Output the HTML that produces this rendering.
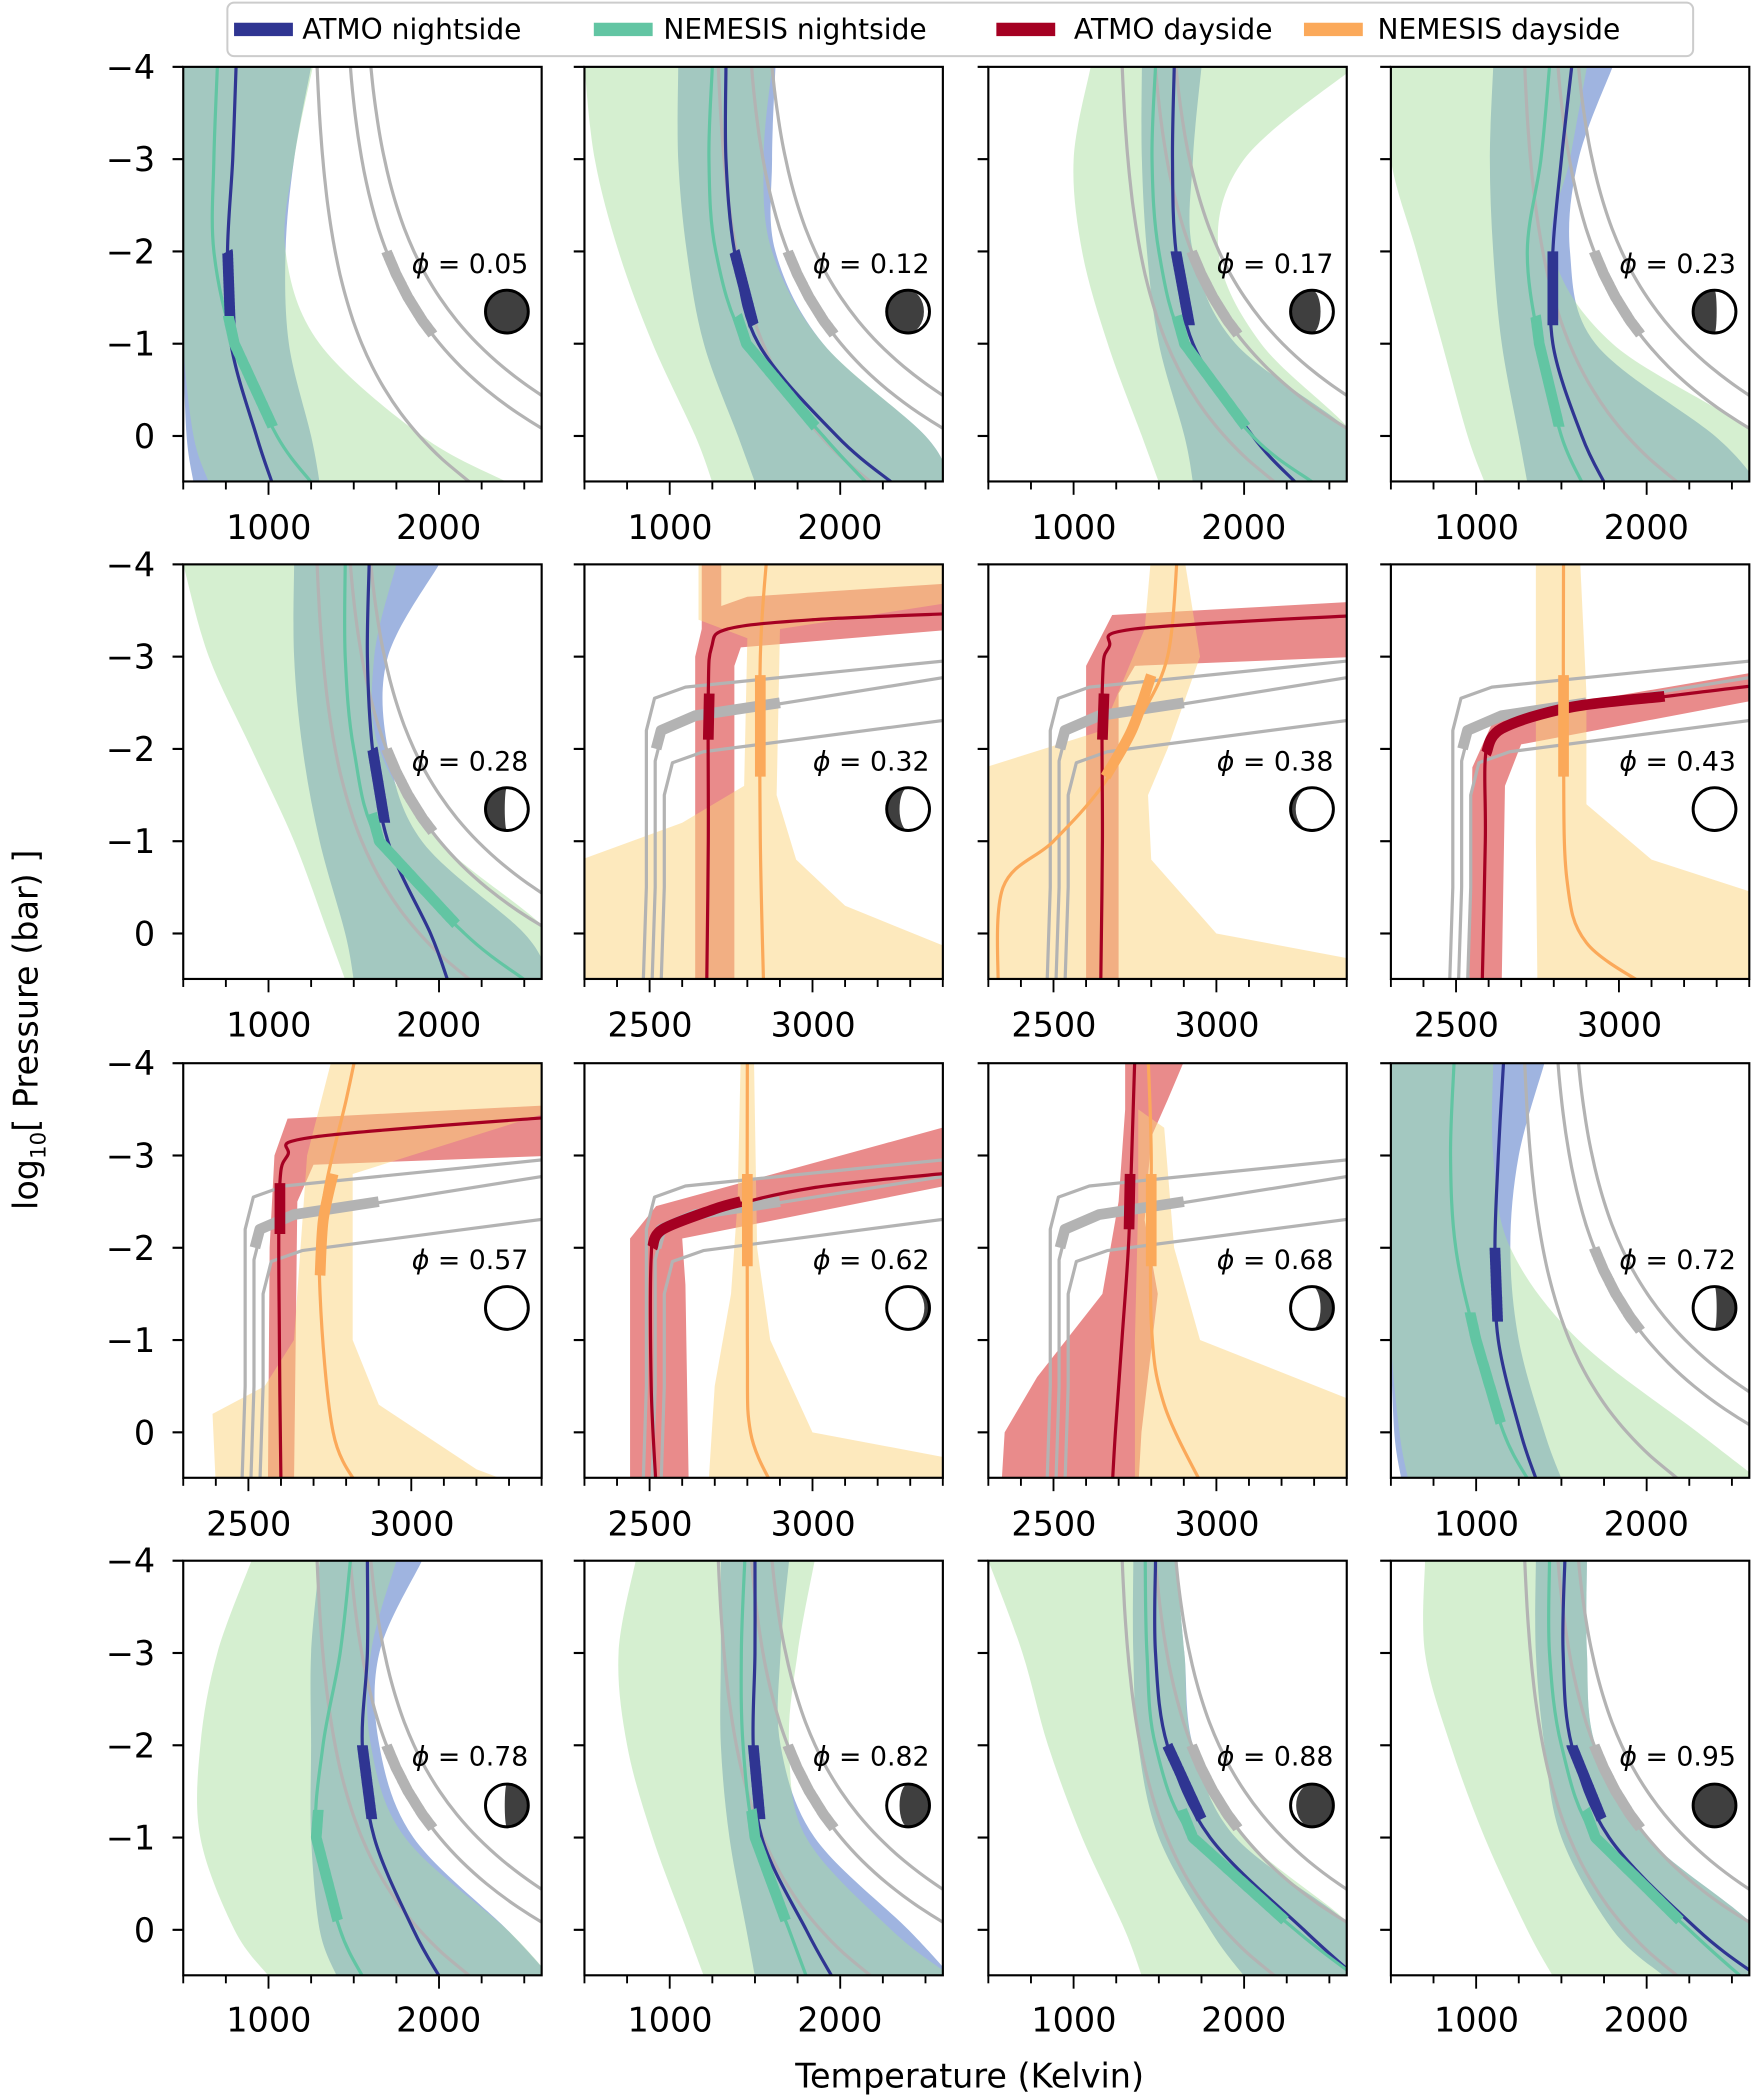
<!DOCTYPE html>
<html><head><meta charset="utf-8"><style>
html,body{margin:0;padding:0;background:#fff;width:1752px;height:2097px;overflow:hidden}
svg{display:block}
text{font-family:"DejaVu Sans","Liberation Sans",sans-serif;fill:#000}
</style></head><body>
<svg id="s" width="1752" height="2097" viewBox="0 0 1310 1568" xmlns="http://www.w3.org/2000/svg">
<defs id="defs"></defs>
<g id="plots"></g>
<g id="txt" font-size="25">
<!-- legend -->
<rect x="170" y="2" width="1096" height="40" rx="5" fill="#fff" stroke="#cccccc" stroke-width="1.5"/>
<rect x="175" y="17" width="44" height="10" fill="#2f3592"/>
<text x="226" y="29" font-size="21">ATMO nightside</text>
<rect x="444" y="17" width="44" height="10" fill="#62c5a3"/>
<text x="496" y="29" font-size="21">NEMESIS nightside</text>
<rect x="745" y="17" width="44" height="10" fill="#a50022"/>
<text x="803" y="29" font-size="21">ATMO dayside</text>
<rect x="975" y="17" width="44" height="10" fill="#fba95a"/>
<text x="1030" y="29" font-size="21">NEMESIS dayside</text>
<!-- y tick labels -->
<g text-anchor="end">
<text x="116" y="59">−4</text><text x="116" y="128">−3</text><text x="116" y="197">−2</text><text x="116" y="266">−1</text><text x="116" y="335">0</text>
<text x="116" y="431">−4</text><text x="116" y="500">−3</text><text x="116" y="569">−2</text><text x="116" y="638">−1</text><text x="116" y="707">0</text>
<text x="116" y="804">−4</text><text x="116" y="873">−3</text><text x="116" y="942">−2</text><text x="116" y="1011">−1</text><text x="116" y="1080">0</text>
<text x="116" y="1176">−4</text><text x="116" y="1245">−3</text><text x="116" y="1314">−2</text><text x="116" y="1383">−1</text><text x="116" y="1452">0</text>
</g>
<!-- x tick labels -->
<g text-anchor="middle">
<text x="201" y="403">1000</text><text x="328" y="403">2000</text>
<text x="501" y="403">1000</text><text x="628" y="403">2000</text>
<text x="803" y="403">1000</text><text x="930" y="403">2000</text>
<text x="1104" y="403">1000</text><text x="1231" y="403">2000</text>
<text x="201" y="775">1000</text><text x="328" y="775">2000</text>
<text x="486" y="775">2500</text><text x="608" y="775">3000</text>
<text x="788" y="775">2500</text><text x="910" y="775">3000</text>
<text x="1089" y="775">2500</text><text x="1211" y="775">3000</text>
<text x="186" y="1148">2500</text><text x="308" y="1148">3000</text>
<text x="486" y="1148">2500</text><text x="608" y="1148">3000</text>
<text x="788" y="1148">2500</text><text x="910" y="1148">3000</text>
<text x="1104" y="1148">1000</text><text x="1231" y="1148">2000</text>
<text x="201" y="1519">1000</text><text x="328" y="1519">2000</text>
<text x="501" y="1519">1000</text><text x="628" y="1519">2000</text>
<text x="803" y="1519">1000</text><text x="930" y="1519">2000</text>
<text x="1104" y="1519">1000</text><text x="1231" y="1519">2000</text>
</g>
<!-- phase labels -->
<g text-anchor="end" font-size="20">
<text x="395" y="204"><tspan font-style="italic">ϕ</tspan> = 0.05</text>
<text x="695" y="204"><tspan font-style="italic">ϕ</tspan> = 0.12</text>
<text x="997" y="204"><tspan font-style="italic">ϕ</tspan> = 0.17</text>
<text x="1298" y="204"><tspan font-style="italic">ϕ</tspan> = 0.23</text>
<text x="395" y="576"><tspan font-style="italic">ϕ</tspan> = 0.28</text>
<text x="695" y="576"><tspan font-style="italic">ϕ</tspan> = 0.32</text>
<text x="997" y="576"><tspan font-style="italic">ϕ</tspan> = 0.38</text>
<text x="1298" y="576"><tspan font-style="italic">ϕ</tspan> = 0.43</text>
<text x="395" y="949"><tspan font-style="italic">ϕ</tspan> = 0.57</text>
<text x="695" y="949"><tspan font-style="italic">ϕ</tspan> = 0.62</text>
<text x="997" y="949"><tspan font-style="italic">ϕ</tspan> = 0.68</text>
<text x="1298" y="949"><tspan font-style="italic">ϕ</tspan> = 0.72</text>
<text x="395" y="1320"><tspan font-style="italic">ϕ</tspan> = 0.78</text>
<text x="695" y="1320"><tspan font-style="italic">ϕ</tspan> = 0.82</text>
<text x="997" y="1320"><tspan font-style="italic">ϕ</tspan> = 0.88</text>
<text x="1298" y="1320"><tspan font-style="italic">ϕ</tspan> = 0.95</text>
</g>
<text x="725" y="1561" text-anchor="middle" font-size="25">Temperature (Kelvin)</text>
<text transform="translate(28,770) rotate(-90)" text-anchor="middle" font-size="25">log<tspan font-size="16" dy="6">10</tspan><tspan dy="-6">[ Pressure (bar) ]</tspan></text>
</g>
</svg>
<script>
const NS="http://www.w3.org/2000/svg";
const plots=document.getElementById('plots'),defs=document.getElementById('defs');
const COLX=[137,437,739,1040],ROWY=[50,422,795,1167],W=268,H=310;
const P=[-4,-3,-2,-1,0,0.5];
function el(t,a,p){const e=document.createElementNS(NS,t);for(const k in a)e.setAttribute(k,a[k]);(p||plots).appendChild(e);return e;}
function smooth(pts){let d='M'+pts[0][0].toFixed(1)+','+pts[0][1].toFixed(1);
 for(let i=0;i<pts.length-1;i++){const p0=pts[i-1]||pts[i],p1=pts[i],p2=pts[i+1],p3=pts[i+2]||p2;
 const c1=[p1[0]+(p2[0]-p0[0])/6,p1[1]+(p2[1]-p0[1])/6],c2=[p2[0]-(p3[0]-p1[0])/6,p2[1]-(p3[1]-p1[1])/6];
 d+='C'+c1.map(v=>v.toFixed(1))+' '+c2.map(v=>v.toFixed(1))+' '+p2.map(v=>v.toFixed(1));}return d;}
function poly(pts){return 'M'+pts.map(p=>p[0].toFixed(1)+','+p[1].toFixed(1)).join('L')+'Z';}
function moon(cx,cy,side,f,g){const r=16;
 el('circle',{cx,cy,r,fill:'#fff',stroke:'none'},g);
 if(f>=1){el('circle',{cx,cy,r,fill:'#3f3f3f'},g);}
 else if(f>0){const rx=Math.abs(r*(2*f-1)).toFixed(2);let d;
  if(side==='L'){d=`M${cx},${cy-r}A${r},${r} 0 0 0 ${cx},${cy+r}A${rx},${r} 0 0 ${f>0.5?0:1} ${cx},${cy-r}Z`;}
  else{d=`M${cx},${cy-r}A${r},${r} 0 0 1 ${cx},${cy+r}A${rx},${r} 0 0 ${f>0.5?1:0} ${cx},${cy-r}Z`;}
  el('path',{d,fill:'#3f3f3f'},g);}
 el('circle',{cx,cy,r,fill:'none',stroke:'#000','stroke-width':2.2},g);}
let cid=0;
function panel(col,row,type,spec){
 const ox=COLX[col],oy=ROWY[row];
 const X=type==='n'?(T=>(T-500)*0.1275):(T=>(T-2300)*0.2436);
 const Y=p=>(p+4)*69;
 const id='c'+(cid++);
 const cp=el('clipPath',{id},defs);el('rect',{x:0,y:0,width:W,height:H},cp);
 const g=el('g',{transform:`translate(${ox},${oy})`});
 const gc=el('g',{'clip-path':`url(#${id})`},g);
 const tp=a=>a.map(([T,p])=>[X(T),Y(p)]);
 const col6=(arr)=>arr.map((T,i)=>[T,P[i]]);
 const line=(pts,c,w)=>el('path',{d:smooth(tp(pts)),fill:'none',stroke:c,'stroke-width':w,'stroke-linejoin':'round'},gc);
 const seg=(pts,p1,p2,c,w)=>{
   const d=[];const n=40;for(let i=0;i<=n;i++){const p=p1+(p2-p1)*i/n;d.push([interp(pts,p),p]);}
   el('path',{d:smooth(tp(d)),fill:'none',stroke:c,'stroke-width':w},gc);};
 function interp(pts,p){
   for(let i=0;i<pts.length-1;i++){const a=pts[i],b=pts[i+1];if((p-a[1])*(p-b[1])<=0&&a[1]!==b[1]){return a[0]+(b[0]-a[0])*(p-a[1])/(b[1]-a[1]);}}
   return pts[0][0];}
 if(type==='n'){
  const s=spec;
  const band=(L,R,fill,op)=>{const l=col6(L),r=col6(R).reverse();el('path',{d:smooth(tp(l))+'L'+smooth(tp(r)).slice(1)+'Z',fill,'fill-opacity':op},gc);};
  band(s.bL,s.bR,'#9fb4e0',1);
  band(s.gL,s.gR,'rgb(167,222,157)',0.48);
  const gfine=(T0,dT)=>{const a=[];for(let p=-4;p<=0.55;p+=0.25)a.push([T0+dT*(Math.exp((p+4)*0.77)-1)/(Math.exp(3.47)-1),p]);return a;};
  const g1=gfine(1285,900),g2=gfine(1480,1800),g3=gfine(1600,2150);
  [g1,g2,g3].forEach(q=>line(q,'#b3b3b3',2.4));
  seg(g2,-2.0,-1.1,'#b3b3b3',8);
  const at=col6(s.a),te=col6(s.t);
  line(at,'#2f3592',2.4);line(te,'#62c5a3',2.4);
  seg(at,-2.0,-1.2,'#2f3592',8);
  seg(te,-1.3,-0.1,'#62c5a3',8);
 } else {
  const s=spec;
  el('path',{d:poly(tp(s.red)),fill:'#e98b8b'},gc);
  el('path',{d:poly(tp(s.yel)),fill:'rgb(251,211,123)','fill-opacity':0.5},gc);
  const gl=(Tv,pk,pr)=>[[Tv-10,0.6],[Tv,-0.5],[Tv,pk+0.35],[Tv+25,pk],[Tv+120,pk-0.12],[3450,pr]];
  const G1=gl(2490,-2.55,-2.97),G2=gl(2517,-2.22,-2.8),G3=gl(2545,-1.85,-2.33);
  [G1,G2,G3].forEach(q=>el('path',{d:'M'+tp(q).map(v=>v.map(n=>n.toFixed(1)).join(',')).join('L'),fill:'none',stroke:'#b3b3b3','stroke-width':2.4,'stroke-linejoin':'round'},gc));
  el('path',{d:'M'+tp([[2520,-2.0],[2535,-2.2],[2640,-2.36],[2900,-2.5]]).map(v=>v.join(',')).join('L'),fill:'none',stroke:'#b3b3b3','stroke-width':8,'stroke-linejoin':'round'},gc);
  line(s.o,'#fba95a',2.4);
  line(s.r,'#a50022',2.4);
  if(s.rt) el('path',{d:smooth(tp(s.rt)),fill:'none',stroke:'#a50022','stroke-width':8},gc);
  if(s.ot) el('path',{d:smooth(tp(s.ot)),fill:'none',stroke:'#fba95a','stroke-width':8},gc);
 }
 el('rect',{x:0,y:0,width:W,height:H,fill:'none',stroke:'#000','stroke-width':1.6},g);
 for(let p=-4;p<=0;p++)el('line',{x1:-8,x2:0,y1:Y(p),y2:Y(p),stroke:'#000','stroke-width':1.6},g);
 if(type==='n'){for(let T=500;T<=2600;T+=250){const x=X(T);el('line',{x1:x,x2:x,y1:H,y2:H+(T%1000===0?10:6),stroke:'#000','stroke-width':1.4},g);}}
 else{for(let T=2300;T<=3400;T+=100){const x=X(T);el('line',{x1:x,x2:x,y1:H,y2:H+(T%500===0?10:6),stroke:'#000','stroke-width':1.4},g);}}
 moon(242,183,spec.ms,spec.mf,g);
}
const N=(a,t,bL,bR,gL,gR,ms,mf)=>({a,t,bL,bR,gL,gR,ms,mf});
panel(0,0,'n',N([810,790,760,780,930,1020],[700,680,680,800,1050,1250],[500,500,500,500,520,560],[1250,1150,1100,1120,1250,1300],[500,500,500,500,560,650],[1260,1150,1100,1300,1900,2400],'L',1));
panel(1,0,'n',N([1330,1330,1380,1520,1980,2300],[1250,1230,1270,1450,1900,2150],[1050,1050,1100,1200,1400,1500],[1620,1600,1620,1900,2500,2650],[500,560,700,900,1150,1250],[1600,1550,1600,1900,2500,2650],'L',0.87));
panel(2,0,'n',N([1590,1580,1600,1700,2050,2300],[1480,1460,1500,1650,2050,2400],[1400,1400,1430,1500,1650,1700],[1750,1700,1700,1950,2650,2650],[1100,1000,1050,1200,1400,1500],[2650,2000,1850,2100,2650,2650],'L',0.7));
panel(3,0,'n',N([1560,1500,1450,1450,1620,1750],[1430,1380,1300,1370,1500,1620],[1100,1080,1100,1150,1250,1300],[1800,1600,1550,1700,2400,2650],[500,500,650,800,950,1050],[1650,1550,1450,1800,2650,2650],'L',0.55));
panel(0,1,'n',N([1590,1580,1610,1700,1950,2050],[1450,1450,1500,1650,2150,2500],[1150,1150,1200,1300,1450,1500],[2000,1700,1700,1900,2500,2650],[500,650,900,1150,1350,1450],[1750,1620,1650,2000,2650,2650],'L',0.45));
panel(3,2,'n',N([1160,1130,1110,1130,1260,1350],[870,850,880,1000,1160,1300],[500,500,500,500,520,560],[1400,1250,1200,1250,1400,1500],[500,500,500,500,550,600],[1100,1100,1200,1600,2300,2650],'R',0.45));
panel(0,3,'n',N([1580,1580,1550,1620,1850,2000],[1480,1420,1320,1280,1420,1550],[1300,1250,1250,1250,1300,1400],[1900,1650,1650,1850,2400,2650],[900,700,600,600,800,1000],[1750,1600,1600,1800,2400,2650],'R',0.55));
panel(1,3,'n',N([1500,1500,1490,1540,1800,1950],[1440,1420,1430,1500,1700,1800],[1300,1300,1300,1350,1450,1500],[1700,1650,1650,1850,2400,2650],[800,700,750,900,1100,1200],[1850,1750,1700,1800,2300,2650],'R',0.7));
panel(2,3,'n',N([1480,1480,1550,1800,2350,2650],[1420,1430,1480,1700,2300,2650],[1350,1350,1380,1500,1800,2000],[1600,1650,1700,1950,2650,2650],[500,700,850,1050,1300,1400],[1600,1650,1700,2000,2650,2650],'R',0.87));
panel(3,3,'n',N([1520,1510,1560,1780,2300,2650],[1430,1430,1500,1700,2250,2550],[1350,1350,1400,1500,1800,2100],[1650,1650,1700,2000,2650,2650],[700,700,850,1050,1300,1450],[1650,1650,1700,2000,2650,2650],'R',1));
panel(1,1,'d',{ms:'L',mf:0.3,
 red:[[2640,0.6],[2640,-3.0],[2660,-3.3],[2660,-4.1],[2720,-4.1],[2720,-3.55],[2800,-3.65],[3450,-3.8],[3450,-3.3],[2780,-3.1],[2760,-2.9],[2760,0.6]],
 yel:[[2650,-4.1],[3450,-4.1],[3450,-3.6],[2900,-3.3],[2890,-1.5],[2950,-0.8],[3100,-0.3],[3450,0.2],[3450,0.6],[2290,0.6],[2290,-0.8],[2600,-1.2],[2790,-1.6],[2800,-3.2],[2650,-3.4]],
 r:[[2675,0.6],[2680,-1],[2680,-2.6],[2690,-3.1],[2740,-3.3],[3000,-3.4],[3450,-3.47]],
 rt:[[2683,-2.6],[2680,-2.1]],
 o:[[2850,0.6],[2840,-1],[2840,-3],[2860,-4.1]],ot:[[2840,-2.8],[2840,-1.7]]});
panel(2,1,'d',{ms:'L',mf:0.12,
 red:[[2600,0.6],[2600,-2.9],[2680,-3.45],[3450,-3.6],[3450,-3.0],[2750,-2.9],[2700,-2.6],[2700,0.6]],
 yel:[[2800,-4.1],[2900,-4.1],[2950,-3],[2850,-2],[2790,-1.5],[2800,-0.8],[3000,0],[3450,0.3],[3450,0.6],[2290,0.6],[2290,-1.8],[2650,-2.2],[2780,-3.3]],
 r:[[2645,0.6],[2650,-1],[2650,-2.7],[2670,-3.1],[2750,-3.3],[3450,-3.45]],
 rt:[[2655,-2.6],[2650,-2.1]],
 o:[[2330,0.6],[2345,-0.5],[2500,-1.0],[2650,-1.6],[2760,-2.3],[2850,-3.0],[2880,-4.1]],ot:[[2660,-1.7],[2740,-2.2],[2800,-2.8]]});
panel(3,1,'d',{ms:'L',mf:0,
 red:[[2540,0.6],[2550,-1.8],[2620,-2.35],[3450,-2.85],[3450,-2.55],[2700,-2.05],[2650,-1.6],[2640,0.6]],
 yel:[[2745,-4.1],[2880,-4.1],[2900,-2.6],[2900,-1.4],[3100,-0.8],[3450,-0.4],[3450,0.6],[2750,0.6],[2745,-1]],
 r:[[2580,0.6],[2590,-1],[2590,-1.9],[2620,-2.15],[2800,-2.4],[3100,-2.55],[3450,-2.7]],
 rt:[[2592,-1.95],[2640,-2.22],[2850,-2.45],[3140,-2.57]],
 o:[[3100,0.6],[2900,0.1],[2840,-0.6],[2830,-2],[2830,-4.1]],ot:[[2830,-2.8],[2830,-1.7]]});
panel(0,2,'d',{ms:'L',mf:0,
 red:[[2560,0.6],[2565,-2.0],[2580,-3.0],[2620,-3.4],[3450,-3.55],[3450,-3.0],[2700,-2.9],[2650,-2.5],[2640,0.6]],
 yel:[[2400,0.6],[2390,-0.2],[2550,-0.5],[2640,-1],[2680,-3],[2760,-4.1],[3450,-4.1],[3450,-3.5],[2820,-2.8],[2820,-1.0],[2900,-0.3],[3200,0.4],[3350,0.6]],
 r:[[2600,0.6],[2595,-1],[2595,-2.6],[2620,-3.0],[2700,-3.2],[3450,-3.42]],
 rt:[[2597,-2.7],[2597,-2.15]],
 o:[[2840,0.6],[2760,0],[2720,-1.5],[2730,-2.5],[2800,-3.6],[2830,-4.1]],ot:[[2720,-1.7],[2730,-2.3],[2760,-2.8]]});
panel(1,2,'d',{ms:'R',mf:0.12,
 red:[[2440,0.6],[2440,-2.1],[2520,-2.45],[3450,-3.35],[3450,-2.7],[2600,-2.1],[2610,-1.6],[2620,0.6]],
 yel:[[2780,-4.1],[2820,-4.1],[2830,-2],[2870,-1],[3000,0],[3450,0.3],[3450,0.6],[2680,0.6],[2700,-0.5],[2750,-1.5],[2770,-2.5]],
 r:[[2520,0.6],[2505,-0.5],[2505,-1.9],[2530,-2.15],[2700,-2.4],[3000,-2.65],[3450,-2.82]],
 rt:[[2508,-2.0],[2540,-2.2],[2700,-2.42],[2780,-2.5]],
 o:[[2880,0.6],[2810,0],[2800,-1],[2800,-4.1]],ot:[[2800,-2.8],[2800,-1.8]]});
panel(2,2,'d',{ms:'R',mf:0.3,
 red:[[2720,-4.1],[2910,-4.1],[2850,-3.6],[2800,-3.2],[2780,-2.3],[2820,-1.5],[2770,0],[2760,0.6],[2340,0.6],[2350,0],[2450,-0.6],[2650,-1.5],[2700,-2.5],[2720,-3.5]],
 yel:[[2760,-3.5],[2840,-3.3],[2870,-2],[2950,-1],[3450,-0.3],[3450,0.6],[2750,0.6],[2750,-1],[2760,-2.5]],
 r:[[2680,0.6],[2690,0],[2710,-1],[2730,-2],[2740,-3],[2750,-4.1]],
 rt:[[2735,-2.8],[2732,-2.2]],
 o:[[2960,0.6],[2840,-0.3],[2800,-1.2],[2800,-3],[2790,-4.1]],ot:[[2800,-2.8],[2800,-1.8]]});
</script>
</body></html>
